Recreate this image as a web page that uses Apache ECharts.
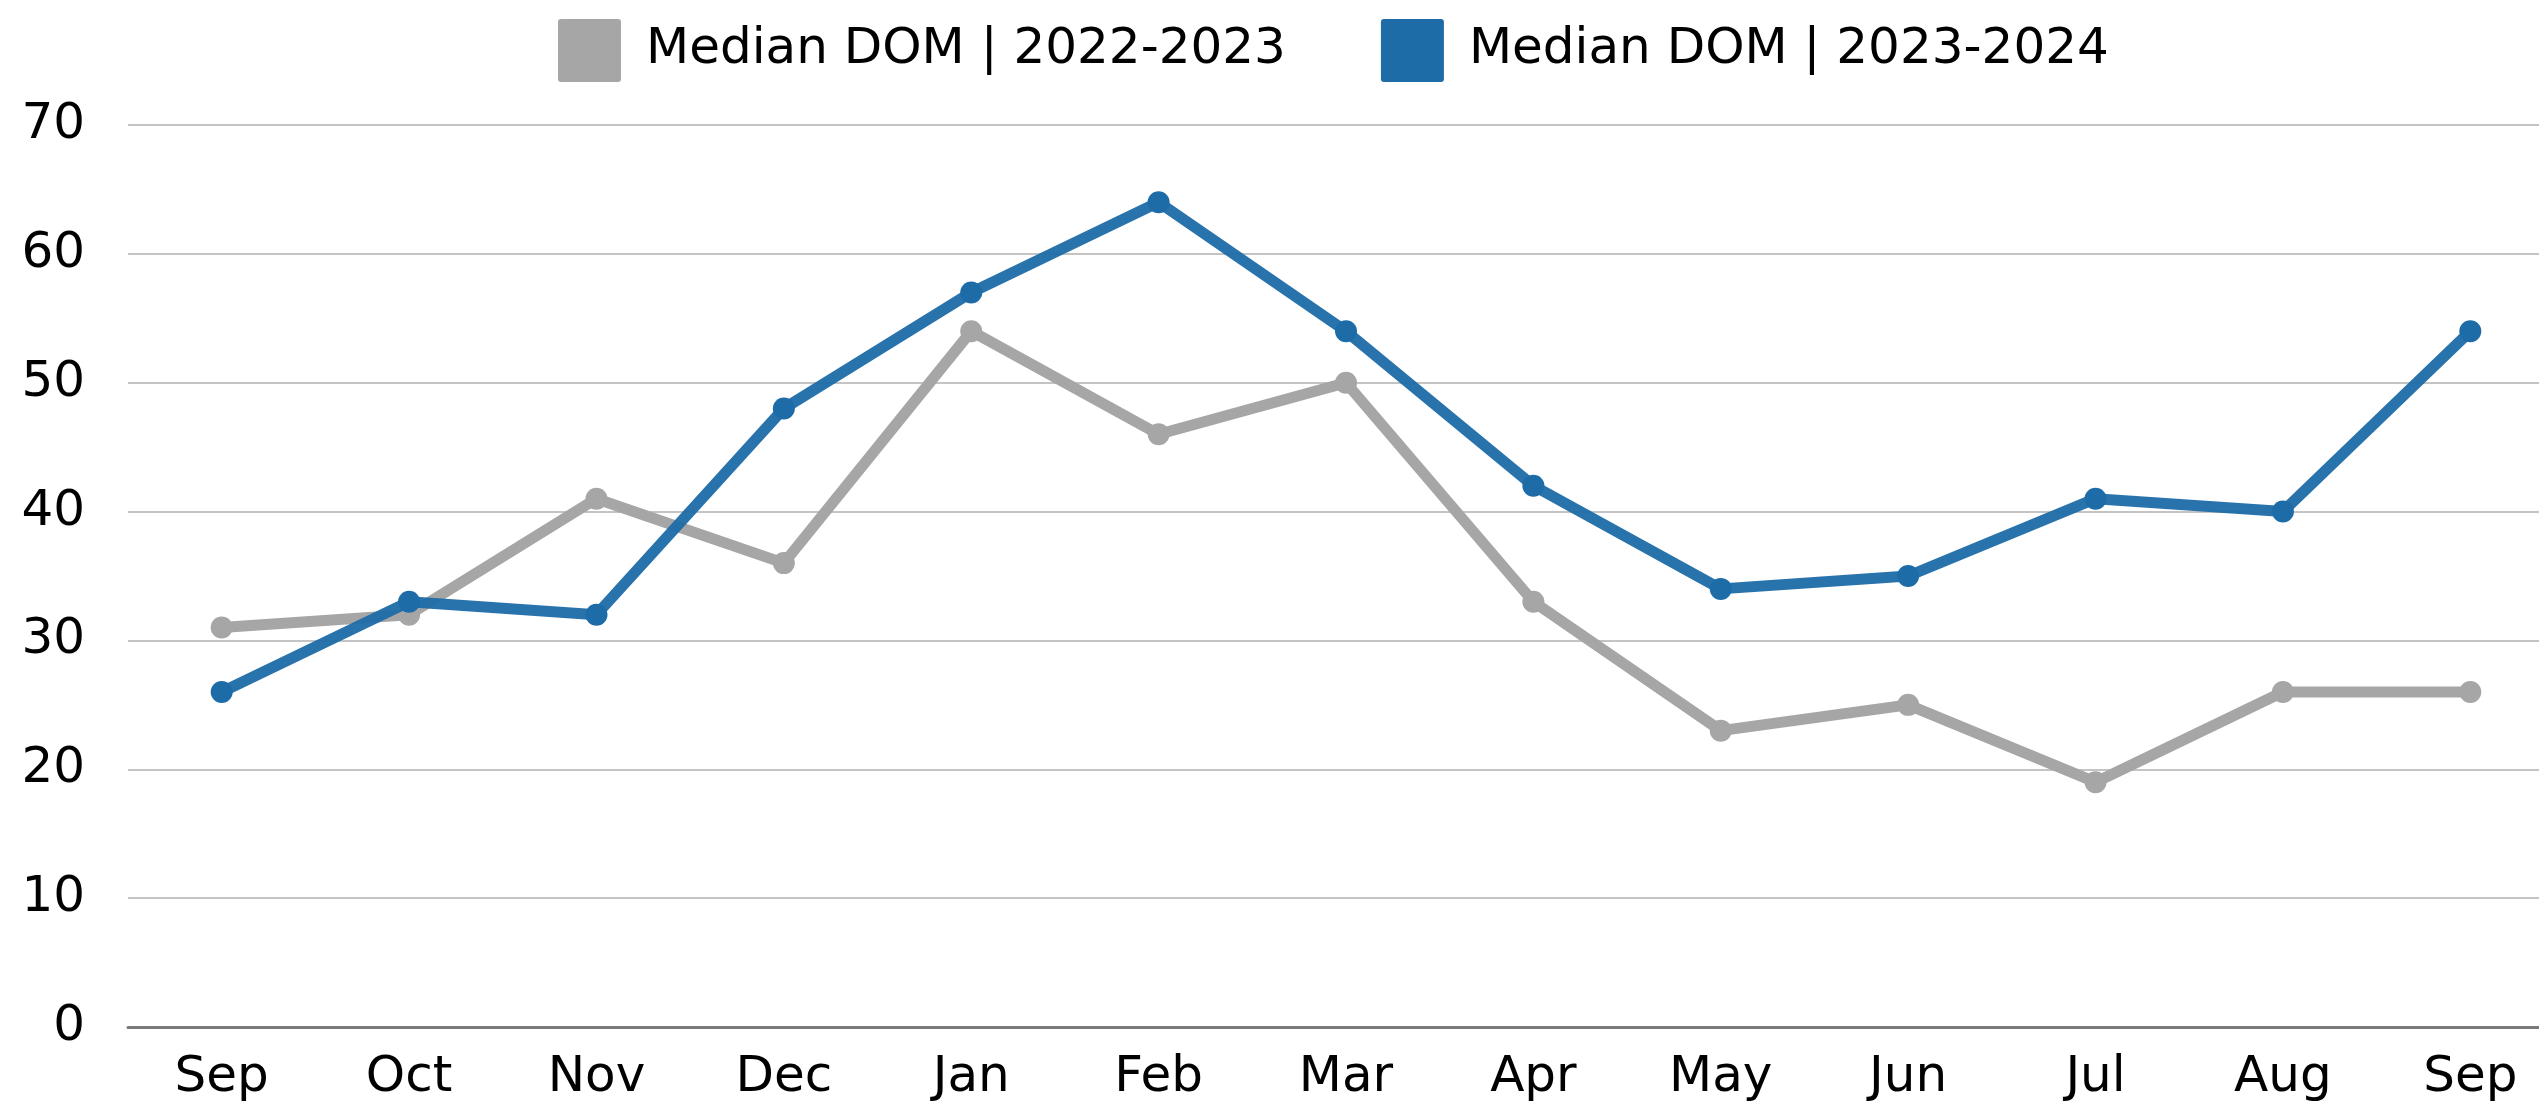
<!DOCTYPE html>
<html>
<head>
<meta charset="utf-8">
<script src="https://cdn.jsdelivr.net/npm/echarts@6/dist/echarts.min.js"></script>
<style>
html,body{margin:0;padding:0;background:#fff;}
#chart{width:2539px;height:1108px;}
</style>
</head>
<body>
<div id="chart"></div>
<script>
const categories = ['Sep','Oct','Nov','Dec','Jan','Feb','Mar','Apr','May','Jun','Jul','Aug','Sep'];
const dom2022 = [31,32,41,36,54,46,50,33,23,25,19,26,26];
const dom2023 = [26,33,32,48,57,64,54,42,34,35,41,40,54];
const seriesNames = ['Median DOM | 2022-2023','Median DOM | 2023-2024'];
const yTicks = [0,10,20,30,40,50,60,70];

const FONT = '"DejaVu Sans", sans-serif';
const chart = echarts.init(document.getElementById('chart'));
chart.setOption({
  animation: false,
  backgroundColor: '#ffffff',
  legend: {
    top: 14,
    left: 553,
    itemWidth: 63,
    itemHeight: 63,
    itemGap: 95,
    icon: 'path://M3,0 L60,0 Q63,0 63,3 L63,60 Q63,63 60,63 L3,63 Q0,63 0,60 L0,3 Q0,0 3,0 Z',
    textStyle: { fontFamily: FONT, fontSize: 50, color: '#000', padding: [0,0,0,20] },
    data: [
      { name: seriesNames[0], itemStyle: { color: '#A6A6A6' } },
      { name: seriesNames[1], itemStyle: { color: '#1D6CA8' } }
    ]
  },
  grid: { left: 128, width: 2436, top: 125, bottom: 81, containLabel: false, outerBoundsMode: 'none' },
  xAxis: {
    type: 'category',
    data: categories,
    boundaryGap: true,
    axisLine: { lineStyle: { color: '#7a7a7a', width: 3 } },
    axisTick: { show: false },
    axisLabel: { fontFamily: FONT, fontSize: 50, color: '#000', margin: 26 }
  },
  yAxis: {
    type: 'value',
    min: yTicks[0],
    max: yTicks[yTicks.length-1],
    interval: 10,
    axisLine: { show: false },
    axisTick: { show: false },
    splitLine: { lineStyle: { color: '#c4c4c4', width: 2 } },
    axisLabel: { fontFamily: FONT, fontSize: 50, color: '#000', margin: 43 }
  },
  series: [
    {
      name: seriesNames[0], type: 'line', data: dom2022,
      symbol: 'circle', symbolSize: 22,
      lineStyle: { color: '#A6A6A6', width: 11 },
      itemStyle: { color: '#A6A6A6' },
      z: 2
    },
    {
      name: seriesNames[1], type: 'line', data: dom2023,
      symbol: 'circle', symbolSize: 22,
      lineStyle: { color: '#1D6CA8', width: 11, opacity: 0.95 },
      itemStyle: { color: '#1D6CA8' },
      z: 3
    }
  ]
});
</script>
</body>
</html>
